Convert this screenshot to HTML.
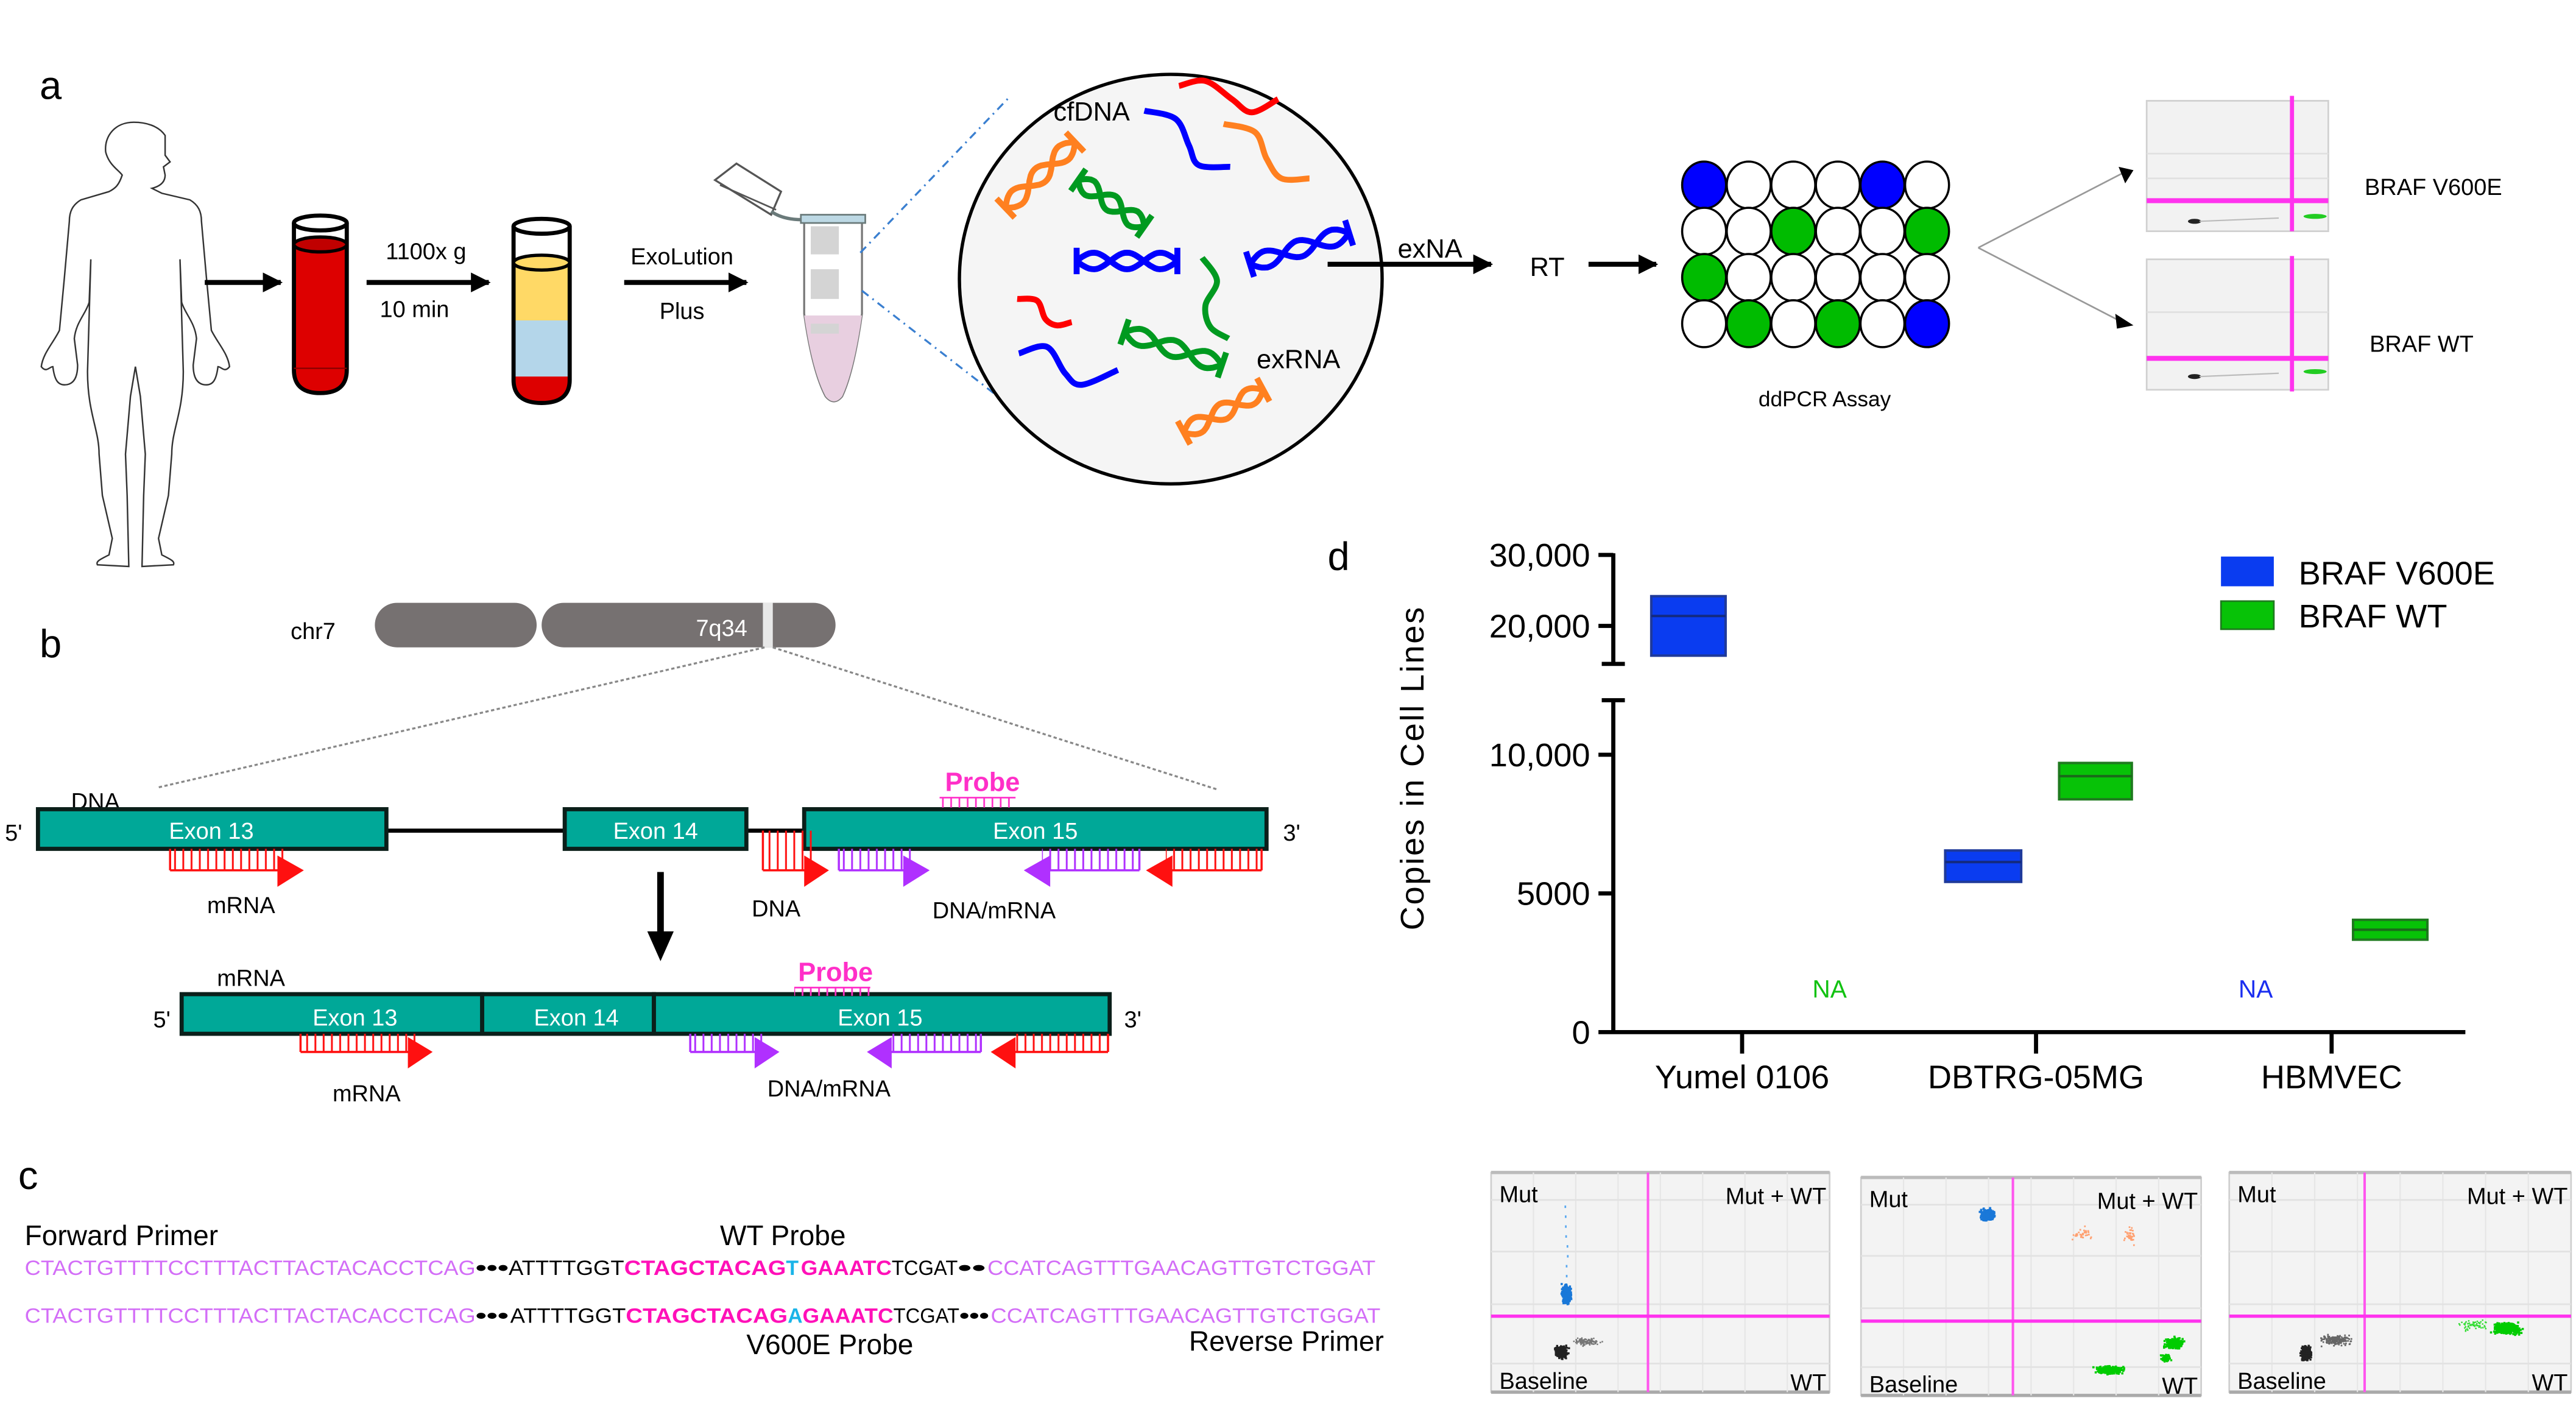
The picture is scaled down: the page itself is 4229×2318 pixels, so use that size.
<!DOCTYPE html>
<html><head><meta charset="utf-8"><style>
html,body{margin:0;padding:0;background:#fff;}
svg{display:block;}
text{font-family:"Liberation Sans",Arial,sans-serif;}
</style></head><body>
<svg id="s" xmlns="http://www.w3.org/2000/svg" width="4229" height="2318" viewBox="0 0 1560 855">
<defs>
<pattern id="hR" width="5" height="40" patternUnits="userSpaceOnUse"><line x1="1" y1="0" x2="1" y2="40" stroke="#ff1010" stroke-width="1.1"/></pattern>
<pattern id="hP" width="5" height="40" patternUnits="userSpaceOnUse"><line x1="1" y1="0" x2="1" y2="40" stroke="#b030ff" stroke-width="1.1"/></pattern>
<pattern id="hM" width="5" height="40" patternUnits="userSpaceOnUse"><line x1="1" y1="0" x2="1" y2="40" stroke="#ff2fc8" stroke-width="1"/></pattern>
<marker id="ah" viewBox="0 0 10 10" refX="9" refY="5" markerWidth="4" markerHeight="4" orient="auto"><path d="M0,0 L10,5 L0,10 Z" fill="#000"/></marker>
</defs>
<rect width="1560" height="855" fill="#fff"/>

<!-- ===== Panel a ===== -->
<text x="24" y="60" font-size="24">a</text>
<path d="M81,74 C70,74 63,82 64,92 C66,100 72,103 74,106 C72,112 70,114 66,116 L49,121 C44,124 42,128 42,134 L39,168 L36,200 C32,208 26,214 25,222 C28,226 30,222 32,222 C33,230 35,233 39,233 C45,233 47,228 47,221 L45,205 C46,195 52,190 54,183 L55,157 L53,225 C53,250 60,260 60,275 L62,300 L68,326 L66,336 C60,339 58,340 59,342 L78,343 L77,300 L76,275 L79,240 L82,222 L85,240 L88,275 L87,300 L86,343 L105,342 C106,340 104,339 98,336 L96,326 L102,300 L104,275 C104,260 111,250 111,225 L109,157 L110,183 C112,190 118,195 119,205 L117,221 C117,228 119,233 125,233 C129,233 131,230 132,222 C134,222 136,226 139,222 C138,214 132,208 128,200 L125,168 L122,134 C122,128 120,124 115,121 L98,117 L92,114 C96,113 100,111 100,106 L99,101 L103,98 L100,94 L100,82 C96,76 88,74 81,74 Z" fill="none" stroke="#333" stroke-width="0.9"/>
<line x1="124" y1="171" x2="170" y2="171" stroke="#000" stroke-width="3" marker-end="url(#ah)"/>
<path d="M178,148 L178,224 Q178,238 194,238 Q210,238 210,224 L210,148 Z" fill="#dd0000"/>
<path d="M178,135 L178,224 Q178,238 194,238 Q210,238 210,224 L210,135" fill="none" stroke="#000" stroke-width="2.5"/>
<ellipse cx="194" cy="135" rx="16" ry="4.5" fill="#fff" stroke="#000" stroke-width="2.5"/>
<ellipse cx="194" cy="148" rx="16" ry="4.5" fill="#c00000" stroke="#000" stroke-width="2"/>
<line x1="178" y1="223" x2="210" y2="223" stroke="#800" stroke-width="0.8"/>
<line x1="222" y1="171" x2="296" y2="171" stroke="#000" stroke-width="3" marker-end="url(#ah)"/>
<text x="258" y="157" font-size="14" text-anchor="middle">1100x g</text>
<text x="251" y="192" font-size="14" text-anchor="middle">10 min</text>
<path d="M311,160 L345,160 L345,194 L311,194 Z" fill="#ffd966"/>
<path d="M311,194 L345,194 L345,228 L311,228 Z" fill="#b4d6ea"/>
<path d="M311,228 L345,228 L345,228 L345,230 Q345,244 328,244 Q311,244 311,230 Z" fill="#dd0000"/>
<path d="M311,137 L311,230 Q311,244 328,244 Q345,244 345,230 L345,137" fill="none" stroke="#000" stroke-width="2.5"/>
<ellipse cx="328" cy="137" rx="17" ry="4.5" fill="#fff" stroke="#000" stroke-width="2.5"/>
<ellipse cx="328" cy="159" rx="17" ry="4.5" fill="#ffd966" stroke="#000" stroke-width="2"/>
<line x1="378" y1="171" x2="452" y2="171" stroke="#000" stroke-width="3" marker-end="url(#ah)"/>
<text x="413" y="160" font-size="14" text-anchor="middle">ExoLution</text>
<text x="413" y="193" font-size="14" text-anchor="middle">Plus</text>
<path d="M433,109 L446,99 L473,116 L467,130 Z" fill="#fff" stroke="#555" stroke-width="1.2"/>
<line x1="436" y1="112" x2="470" y2="127" stroke="#555" stroke-width="1"/>
<path d="M467,128 Q474,133 486,133" fill="none" stroke="#6a7a7a" stroke-width="2"/>
<path d="M487,134 L522,134 L522,190 Q517,225 510,240 Q505,246 500,240 Q492,225 487,190 Z" fill="#fff" stroke="#777" stroke-width="1.2"/>
<path d="M487,191 L522,191 Q517,225 510,240 Q505,246 500,240 Q492,225 487,191 Z" fill="#e8cfe0"/>
<rect x="491" y="137" width="17" height="17" fill="#d4d4d4"/>
<rect x="491" y="163" width="17" height="18" fill="#d4d4d4"/>
<rect x="491" y="196" width="17" height="6" fill="#d4d4d4"/>
<rect x="485" y="130" width="39" height="5" fill="#bcd8e4" stroke="#6a7a7a" stroke-width="1"/>
<line x1="521" y1="153" x2="612" y2="58" stroke="#3a7fd0" stroke-width="1.2" stroke-dasharray="5,3,1,3"/>
<line x1="522" y1="176" x2="612" y2="246" stroke="#3a7fd0" stroke-width="1.2" stroke-dasharray="5,3,1,3"/>
<ellipse cx="709" cy="169" rx="128" ry="124" fill="#f5f5f5" stroke="#000" stroke-width="2"/>
<g id="strands" fill="none" stroke-width="3.6" stroke-linecap="butt"></g>
<text x="638" y="73" font-size="16">cfDNA</text>
<text x="761" y="223" font-size="16">exRNA</text>
<line x1="804" y1="160" x2="903" y2="160" stroke="#000" stroke-width="3" marker-end="url(#ah)"/>
<text x="866" y="156" font-size="16" text-anchor="middle">exNA</text>
<text x="937" y="167" font-size="16" text-anchor="middle">RT</text>
<line x1="962" y1="160" x2="1003" y2="160" stroke="#000" stroke-width="3" marker-end="url(#ah)"/>
<g id="drops" stroke="#000" stroke-width="1.3"></g>
<text x="1105" y="246" font-size="13" text-anchor="middle">ddPCR Assay</text>
<line x1="1198" y1="150" x2="1287" y2="104" stroke="#999" stroke-width="1"/>
<line x1="1198" y1="150" x2="1287" y2="196" stroke="#999" stroke-width="1"/>
<path d="M1283,101 L1292,103 L1287,111 Z" fill="#000"/>
<path d="M1281,190 L1292,197 L1282,199 Z" fill="#000"/>
<rect x="1300" y="61" width="110" height="79" fill="#f2f2f2" stroke="#d0d0d0"/>
<line x1="1300" y1="93" x2="1410" y2="93" stroke="#e0e0e0"/>
<line x1="1300" y1="108" x2="1410" y2="108" stroke="#e0e0e0"/>
<line x1="1388" y1="58" x2="1388" y2="140" stroke="#ff33ee" stroke-width="2.5"/>
<line x1="1300" y1="121.5" x2="1410" y2="121.5" stroke="#ff33ee" stroke-width="3"/>
<ellipse cx="1329" cy="134" rx="4" ry="1.5" fill="#222"/>
<line x1="1332" y1="134" x2="1380" y2="132" stroke="#bbb" stroke-width="0.8"/>
<ellipse cx="1402" cy="131" rx="7" ry="1.5" fill="#22cc22"/>
<rect x="1300" y="157" width="110" height="79" fill="#f2f2f2" stroke="#d0d0d0"/>
<line x1="1300" y1="189" x2="1410" y2="189" stroke="#e0e0e0"/>
<line x1="1388" y1="155" x2="1388" y2="237" stroke="#ff33ee" stroke-width="2.5"/>
<line x1="1300" y1="217" x2="1410" y2="217" stroke="#ff33ee" stroke-width="3"/>
<ellipse cx="1329" cy="228" rx="4" ry="1.5" fill="#222"/>
<line x1="1332" y1="228" x2="1380" y2="226" stroke="#bbb" stroke-width="0.8"/>
<ellipse cx="1402" cy="225" rx="7" ry="1.5" fill="#22cc22"/>
<text x="1432" y="118" font-size="14">BRAF V600E</text>
<text x="1435" y="213" font-size="14">BRAF WT</text>

<!-- ===== Panel b ===== -->
<text x="24" y="398" font-size="24">b</text>
<text x="176" y="387" font-size="14">chr7</text>
<rect x="227" y="365" width="98" height="27" rx="13.5" fill="#767171"/>
<rect x="328" y="365" width="178" height="27" rx="13.5" fill="#767171"/>
<rect x="462" y="365" width="6" height="27" fill="#e8e8e8"/>
<text x="437" y="385" font-size="14" fill="#fff" text-anchor="middle">7q34</text>
<line x1="463" y1="392" x2="95" y2="477" stroke="#888" stroke-width="1.2" stroke-dasharray="2,1.5"/>
<line x1="468" y1="392" x2="737" y2="478" stroke="#888" stroke-width="1.2" stroke-dasharray="2,1.5"/>
<text x="43" y="490" font-size="14">DNA</text>
<text x="3" y="509" font-size="14">5'</text>
<text x="777" y="509" font-size="14">3'</text>
<line x1="234" y1="503" x2="342" y2="503" stroke="#000" stroke-width="2.5"/>
<line x1="452" y1="503" x2="487" y2="503" stroke="#000" stroke-width="2.5"/>
<g fill="#00a898" stroke="#0b1f1a" stroke-width="2.5">
<rect x="23" y="490" width="211" height="24"/>
<rect x="342" y="490" width="110" height="24"/>
<rect x="487" y="490" width="280" height="24"/>
<rect x="110" y="602" width="182" height="24"/>
<rect x="292" y="602" width="104" height="24"/>
<rect x="396" y="602" width="276" height="24"/>
</g>
<g font-size="14" fill="#fff" text-anchor="middle">
<text x="128" y="508">Exon 13</text>
<text x="397" y="508">Exon 14</text>
<text x="627" y="508">Exon 15</text>
<text x="215" y="621">Exon 13</text>
<text x="349" y="621">Exon 14</text>
<text x="533" y="621">Exon 15</text>
</g>
<text x="595" y="479" font-size="16" font-weight="bold" fill="#ff2fc8" text-anchor="middle">Probe</text>
<rect x="569" y="483" width="46" height="6" fill="url(#hM)"/><line x1="569" y1="483" x2="615" y2="483" stroke="#ff2fc8"/>
<text x="506" y="594" font-size="16" font-weight="bold" fill="#ff2fc8" text-anchor="middle">Probe</text>
<rect x="481" y="598" width="46" height="5" fill="url(#hM)"/><line x1="481" y1="598" x2="527" y2="598" stroke="#ff2fc8"/>
<g id="primers"></g>
<text x="146" y="553" font-size="14" text-anchor="middle">mRNA</text>
<text x="470" y="555" font-size="14" text-anchor="middle">DNA</text>
<text x="602" y="556" font-size="14" text-anchor="middle">DNA/mRNA</text>
<text x="152" y="597" font-size="14" text-anchor="middle">mRNA</text>
<text x="98" y="622" font-size="14" text-anchor="middle">5'</text>
<text x="686" y="622" font-size="14" text-anchor="middle">3'</text>
<text x="222" y="667" font-size="14" text-anchor="middle">mRNA</text>
<text x="502" y="664" font-size="14" text-anchor="middle">DNA/mRNA</text>
<line x1="400" y1="528" x2="400" y2="568" stroke="#000" stroke-width="4"/>
<path d="M392,564 L408,564 L400,582 Z" fill="#000"/>

<!-- ===== Panel c ===== -->
<text x="11" y="720" font-size="24">c</text>
<text x="15" y="754" font-size="17">Forward Primer</text>
<text x="436" y="754" font-size="17">WT Probe</text>
<g font-size="12.5">
<text y="772"><tspan x="15" fill="#d36ef7" textLength="273" lengthAdjust="spacingAndGlyphs">CTACTGTTTTCCTTTACTTACTACACCTCAG</tspan><tspan x="288" font-weight="bold" textLength="20" lengthAdjust="spacingAndGlyphs">•••</tspan><tspan x="308" textLength="70" lengthAdjust="spacingAndGlyphs">ATTTTGGT</tspan><tspan x="378" fill="#ff10b8" font-weight="bold" textLength="98" lengthAdjust="spacingAndGlyphs">CTAGCTACAG</tspan><tspan x="476" fill="#1ab4e8" font-weight="bold">T</tspan><tspan x="485" fill="#ff10b8" font-weight="bold" textLength="55" lengthAdjust="spacingAndGlyphs">GAAATC</tspan><tspan x="540" textLength="40" lengthAdjust="spacingAndGlyphs">TCGAT</tspan><tspan x="580" font-weight="bold" textLength="17" lengthAdjust="spacingAndGlyphs">••</tspan><tspan x="598" fill="#d36ef7" textLength="235" lengthAdjust="spacingAndGlyphs">CCATCAGTTTGAACAGTTGTCTGGAT</tspan></text>
<text y="801"><tspan x="15" fill="#d36ef7" textLength="273" lengthAdjust="spacingAndGlyphs">CTACTGTTTTCCTTTACTTACTACACCTCAG</tspan><tspan x="288" font-weight="bold" textLength="20" lengthAdjust="spacingAndGlyphs">•••</tspan><tspan x="309" textLength="70" lengthAdjust="spacingAndGlyphs">ATTTTGGT</tspan><tspan x="379" fill="#ff10b8" font-weight="bold" textLength="98" lengthAdjust="spacingAndGlyphs">CTAGCTACAG</tspan><tspan x="477" fill="#1ab4e8" font-weight="bold">A</tspan><tspan x="486" fill="#ff10b8" font-weight="bold" textLength="55" lengthAdjust="spacingAndGlyphs">GAAATC</tspan><tspan x="541" textLength="40" lengthAdjust="spacingAndGlyphs">TCGAT</tspan><tspan x="581" font-weight="bold" textLength="18" lengthAdjust="spacingAndGlyphs">•••</tspan><tspan x="600" fill="#d36ef7" textLength="236" lengthAdjust="spacingAndGlyphs">CCATCAGTTTGAACAGTTGTCTGGAT</tspan></text>
</g>
<text x="452" y="820" font-size="17">V600E Probe</text>
<text x="720" y="818" font-size="17">Reverse Primer</text>

<!-- ===== Panel d ===== -->
<text x="804" y="345" font-size="24">d</text>
<g stroke="#000" stroke-width="2.5" fill="none">
<line x1="977" y1="335" x2="977" y2="402"/>
<line x1="970" y1="402" x2="984" y2="402"/>
<line x1="970" y1="424" x2="984" y2="424"/>
<line x1="977" y1="424" x2="977" y2="626"/>
<line x1="968" y1="336" x2="977" y2="336"/>
<line x1="968" y1="379" x2="977" y2="379"/>
<line x1="968" y1="457" x2="977" y2="457"/>
<line x1="968" y1="541" x2="977" y2="541"/>
<line x1="968" y1="625" x2="1493" y2="625"/>
<line x1="1055" y1="625" x2="1055" y2="638"/>
<line x1="1233" y1="625" x2="1233" y2="638"/>
<line x1="1412" y1="625" x2="1412" y2="638"/>
</g>
<g font-size="20" text-anchor="end">
<text x="963" y="343">30,000</text>
<text x="963" y="386">20,000</text>
<text x="963" y="464">10,000</text>
<text x="963" y="548">5000</text>
<text x="963" y="632">0</text>
</g>
<text transform="translate(862,465) rotate(-90)" font-size="20" text-anchor="middle" letter-spacing="1">Copies in Cell Lines</text>
<g font-size="20" text-anchor="middle">
<text x="1055" y="659">Yumel 0106</text>
<text x="1233" y="659">DBTRG-05MG</text>
<text x="1412" y="659">HBMVEC</text>
</g>
<g stroke-width="1.5">
<rect x="1000" y="361" width="45" height="36" fill="#0a3cf0" stroke="#1f3a9a"/>
<line x1="1000" y1="373" x2="1045" y2="373" stroke="#132a80"/>
<rect x="1178" y="515" width="46" height="19" fill="#0a3cf0" stroke="#1f3a9a"/>
<line x1="1178" y1="522" x2="1224" y2="522" stroke="#132a80"/>
<rect x="1247" y="462" width="44" height="22" fill="#07c207" stroke="#1f7a1f"/>
<line x1="1247" y1="470" x2="1291" y2="470" stroke="#1a6a1a"/>
<rect x="1425" y="557" width="45" height="12" fill="#07c207" stroke="#1f7a1f"/>
<line x1="1425" y1="563" x2="1470" y2="563" stroke="#1a6a1a"/>
</g>
<text x="1108" y="604" font-size="15" fill="#12c212" text-anchor="middle">NA</text>
<text x="1366" y="604" font-size="15" fill="#1a2ef0" text-anchor="middle">NA</text>
<rect x="1345" y="337" width="32" height="18" fill="#0a3cf0"/>
<rect x="1345" y="364" width="32" height="17" fill="#07c207" stroke="#1f7a1f"/>
<text x="1392" y="354" font-size="20">BRAF V600E</text>
<text x="1392" y="380" font-size="20">BRAF WT</text>

<g id="plots"></g>
</svg>
<script>
var NS="http://www.w3.org/2000/svg";
function el(p,t,a){var e=document.createElementNS(NS,t);for(var k in a)e.setAttribute(k,a[k]);p.appendChild(e);return e;}
var g=document.getElementById('strands');
function curve(p,c){
 var d="M"+p[0][0]+","+p[0][1];
 for(var i=0;i<p.length-1;i++){var p0=p[i-1]||p[i],p1=p[i],p2=p[i+1],p3=p[i+2]||p2;
 d+=" C"+(p1[0]+(p2[0]-p0[0])/6)+","+(p1[1]+(p2[1]-p0[1])/6)+" "+(p2[0]-(p3[0]-p1[0])/6)+","+(p2[1]-(p3[1]-p1[1])/6)+" "+p2[0]+","+p2[1];}
 el(g,'path',{d:d,stroke:c});}
function helix(x1,y1,x2,y2,c){
 var dx=x2-x1,dy=y2-y1,L=Math.hypot(dx,dy),ux=dx/L,uy=dy/L,nx=-uy,ny=ux,A=5;
 for(var s=0;s<2;s++){var d="";for(var i=0;i<=40;i++){var t=i/40,ph=t*Math.PI*3+s*Math.PI,o=A*Math.sin(ph);
  var x=x1+dx*t+nx*o,y=y1+dy*t+ny*o;d+=(i?"L":"M")+x.toFixed(1)+","+y.toFixed(1);}el(g,'path',{d:d,stroke:c});}
 [[x1,y1],[x2,y2]].forEach(function(p){el(g,'path',{d:"M"+(p[0]+nx*8)+","+(p[1]+ny*8)+"L"+(p[0]-nx*8)+","+(p[1]-ny*8),stroke:c});});
}
curve([[714,52],[730,49],[746,60],[758,68],[774,60]],"#ff0000");
curve([[693,67],[712,72],[720,88],[726,100],[745,101]],"#0000ff");
curve([[741,75],[760,80],[767,96],[776,108],[793,108]],"#ff8020");
helix(609,126,651,86,"#ff8020");
helix(653,109,693,137,"#009a20");
helix(652,158,713,158,"#0000ff");
helix(757,160,817,141,"#0000ff");
curve([[616,181],[628,182],[633,193],[640,197],[649,195]],"#ff0000");
curve([[728,156],[737,170],[730,185],[733,198],[744,205]],"#009a20");
helix(681,201,740,221,"#009a20");
curve([[617,214],[634,210],[645,226],[655,233],[677,224]],"#0000ff");
helix(717,262,765,236,"#ff8020");
var dg=document.getElementById('drops');
var cols=["BWWWBW","WWGWWG","GWWWWW","WGWGWB"],fc={B:"#0000ff",W:"#fff",G:"#00bb00"};
for(var r=0;r<4;r++)for(var c=0;c<6;c++)el(dg,'ellipse',{cx:1032+c*27,cy:112+r*28,rx:13.3,ry:14.2,fill:fc[cols[r][c]]});
var pg=document.getElementById('primers');
function comb(x1,x2,y1,y2,col,pat,dir,tipx,tri){
 el(pg,'rect',{x:x1,y:y1,width:x2-x1,height:y2-y1,fill:"url(#"+pat+")"});
 el(pg,'line',{x1:x1,y1:y2,x2:x2,y2:y2,stroke:col,"stroke-width":1.3});
 el(pg,'line',{x1:dir>0?x1:x2,y1:y1,x2:dir>0?x1:x2,y2:y2,stroke:col,"stroke-width":1.3});
 var b=tipx-dir*tri;el(pg,'path',{d:"M"+b+","+(y2-9)+" L"+tipx+","+y2+" L"+b+","+(y2+10)+"Z",fill:col});
}
comb(103,172,514,527,"#ff1010","hR",1,184,16);
comb(462,492,503,527,"#ff1010","hR",1,502,15);
comb(508,552,514,527,"#b030ff","hP",1,563,16);
comb(631,690,514,527,"#b030ff","hP",-1,620,16);
comb(706,764,514,527,"#ff1010","hR",-1,694,16);
comb(182,252,626,637,"#ff1010","hR",1,262,15);
comb(418,462,626,637,"#b030ff","hP",1,472,15);
comb(539,594,626,637,"#b030ff","hP",-1,525,15);
comb(614,671,626,637,"#ff1010","hR",-1,600,15);
var pl=document.getElementById('plots');
var seed=7;function rnd(){seed=(seed*16807)%2147483647;return seed/2147483647;}
function gauss(){return (rnd()+rnd()+rnd()-1.5)/1.5;}
function cloud(cx,cy,rx,ry,n,col,sz){for(var i=0;i<n;i++){el(pl,'rect',{x:(cx+gauss()*rx).toFixed(1),y:(cy+gauss()*ry).toFixed(1),width:sz,height:sz,fill:col});}}
function plot(x,y,w,h,vx,hy){
 el(pl,'rect',{x:x,y:y,width:w,height:h,fill:"#f3f3f3",stroke:"#cfcfcf","stroke-width":1});
 el(pl,'line',{x1:x,y1:y,x2:x+w,y2:y,stroke:"#bbb","stroke-width":2});
 el(pl,'line',{x1:x,y1:y+h,x2:x+w,y2:y+h,stroke:"#aaa","stroke-width":2});
 for(var i=1;i<8;i++)el(pl,'line',{x1:x+w*i/8,y1:y,x2:x+w*i/8,y2:y+h,stroke:"#e6e6e6","stroke-width":0.8});
 [0.125,0.36,0.6,0.87].forEach(function(f){el(pl,'line',{x1:x,y1:y+h*f,x2:x+w,y2:y+h*f,stroke:"#e2e2e2","stroke-width":1});});
 el(pl,'line',{x1:vx,y1:y,x2:vx,y2:y+h,stroke:"#ff55ee","stroke-width":1.5});
 el(pl,'line',{x1:x,y1:hy,x2:x+w,y2:hy,stroke:"#ff33ee","stroke-width":2});
}
function labels(x,y,w,h){
 var t=el(pl,'text',{x:x+5,y:y+18,"font-size":14});t.textContent="Mut";
 t=el(pl,'text',{x:x+w-2,y:y+19,"font-size":14,"text-anchor":"end"});t.textContent="Mut + WT";
 t=el(pl,'text',{x:x+5,y:y+h-2,"font-size":14});t.textContent="Baseline";
 t=el(pl,'text',{x:x+w-2,y:y+h-1,"font-size":14,"text-anchor":"end"});t.textContent="WT";
}
plot(903,710,205,133,998,797);
cloud(948,783,3.5,7,350,"#1a78d8",1.3);
for(var i=0;i<8;i++)el(pl,'rect',{x:948+gauss()*1.5,y:730+i*6,width:1,height:1.5,fill:"#58a8f0"});
cloud(945,818,5,5,300,"#222",1.2);cloud(960,812,11,3,120,"#777",0.9);
labels(903,710,205,133);
plot(1127,713,206,132,1219,800);
cloud(1203,735,5.5,4.5,300,"#1a78d8",1.3);
cloud(1260,747,8,6,35,"#ffa070",1);cloud(1290,748,6,7,35,"#ffa070",1);
cloud(1277,829,11,3,320,"#00cc00",1.3);cloud(1316,813,7,4.5,250,"#00cc00",1.3);cloud(1311,822,4,3,60,"#00cc00",1.2);
labels(1127,713,206,132);
plot(1350,710,207,133,1432,797);
cloud(1518,804,11,4.5,380,"#00cc00",1.3);cloud(1497,802,10,5,60,"#33dd33",0.9);
cloud(1396,819,4,6,260,"#222",1.2);cloud(1414,811,12,4,180,"#666",1);
labels(1350,710,207,133);
</script>
</body></html>
